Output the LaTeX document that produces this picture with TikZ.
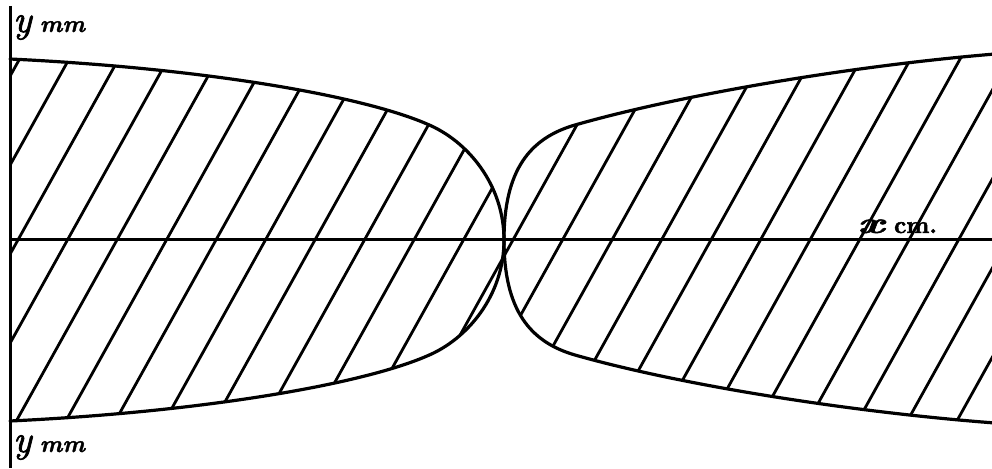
\documentclass[tikz,border=0pt]{standalone}
\usepackage{fontspec}
\newfontface\lblyfont{lmroman10-italic.otf}[FakeBold=2]
\newfontface\lblbifont{lmroman10-bolditalic.otf}[FakeBold=1.5]
\newfontface\lblbfont{lmroman10-bold.otf}[FakeBold=2]
\begin{document}
\begin{tikzpicture}[x=1pt,y=-1pt,
  outline/.style={line width=3.2pt, line join=round, line cap=round},
  axisline/.style={line width=3pt},
  hatch/.style={line width=2.8pt},
  lbl/.style={inner sep=0pt, anchor=base west, text height=16pt, text depth=10pt}]
\useasboundingbox (0,0) rectangle (992,468);
\def\leftshape{.. controls (200,68) and (360,95) .. (427,124) .. controls (468,141) and (504,185) .. (504,240) .. controls (504,295) and (468,339) .. (427,356) .. controls (360,385) and (200,412) .. (10,421)}
\def\rightshape{.. controls (850,66) and (680,95) .. (575,125) .. controls (530,138) and (504,170) .. (504,240) .. controls (504,310) and (530,342) .. (575,355) .. controls (680,385) and (850,412) .. (995,423)}
% hatching
\begin{scope}
  \clip (10,59) \leftshape -- cycle;
  \foreach \k in {-4,...,10} {
    \pgfmathsetmacro\xc{68+49.5*\k}
    \draw[hatch] ({\xc-139},489) -- ({\xc+139},-11);
  }
\end{scope}
\begin{scope}
  \clip (995,54) \rightshape -- (1000,423) -- (1000,54) -- cycle;
  \foreach \k in {7,...,20} {
    \pgfmathsetmacro\xc{68+49.5*\k}
    \draw[hatch] ({\xc-139},489) -- ({\xc+139},-11);
  }
\end{scope}
% outlines
\draw[outline] (10,59) \leftshape;
\draw[outline] (995,54) \rightshape;
% axes
\coordinate (vtop) at (10,6);
\coordinate (vbot) at (10,468);
\coordinate (hleft) at (10,239);
\coordinate (hright) at (992,239);
\draw[axisline] (vtop) -- (vbot);
\draw[axisline] (hleft) -- (hright);
% labels
\node[lbl] (ytop) at (13,32) {{\lblyfont\fontsize{38}{38}\selectfont y}\hspace{8pt}{\lblbifont\fontsize{24}{24}\selectfont mm}};
\node[lbl] (ybot) at (13,452) {{\lblyfont\fontsize{38}{38}\selectfont y}\hspace{8pt}{\lblbifont\fontsize{24}{24}\selectfont mm}};
\node[lbl] (xlab) at (857,233) {\scalebox{1.6}[1]{\lblbifont\fontsize{30}{30}\selectfont x}\hspace{10pt}{\lblbfont\fontsize{24}{24}\selectfont cm.}};
\end{tikzpicture}
\end{document}
